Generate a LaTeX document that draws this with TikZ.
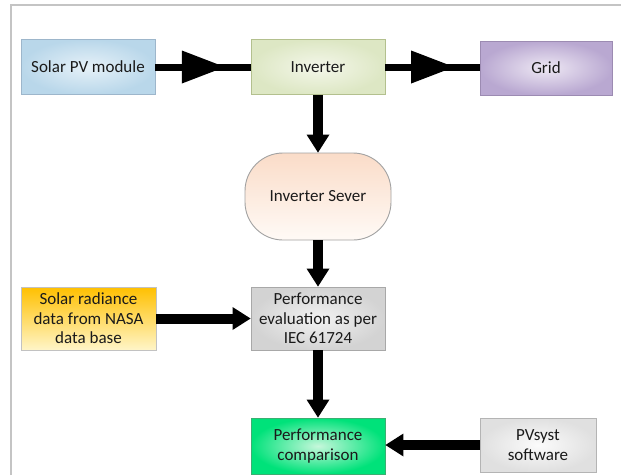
\documentclass[tikz,border=0pt]{standalone}
\usepackage{fontspec}
\setmainfont{Carlito}
\usetikzlibrary{arrows.meta,decorations.markings}

\definecolor{txt}{HTML}{1A1A1A}
\definecolor{framegray}{HTML}{C4C4C4}
\definecolor{pvline}{HTML}{9DB6CB}\definecolor{pvin}{HTML}{E6F1F8}\definecolor{pvout}{HTML}{B9D7EA}
\definecolor{invline}{HTML}{B3C08E}\definecolor{invin}{HTML}{F4F7EA}\definecolor{invout}{HTML}{DDE7C4}
\definecolor{gridline}{HTML}{9C8BB2}\definecolor{gridin}{HTML}{EEE8F4}\definecolor{gridout}{HTML}{B9A8D1}
\definecolor{svline}{HTML}{A2A2A2}\definecolor{svtop}{HTML}{FADCC8}\definecolor{svbot}{HTML}{FFFAF6}
\definecolor{radline}{HTML}{C2C2C2}\definecolor{radtop}{HTML}{FFC000}\definecolor{radbot}{HTML}{FFF5C8}
\definecolor{evline}{HTML}{A8A8A8}\definecolor{evin}{HTML}{F2F2F2}\definecolor{evout}{HTML}{D3D3D3}
\definecolor{cmline}{HTML}{3BAF72}\definecolor{cmin}{HTML}{C6F7DB}\definecolor{cmout}{HTML}{00E27A}
\definecolor{psline}{HTML}{B4B4B4}\definecolor{psin}{HTML}{FBFBFB}\definecolor{psout}{HTML}{E0E0E0}

\tikzset{
  block/.style={draw, line width=0.9pt, minimum width=134pt, minimum height=55pt,
    inner sep=2pt, align=center, text=txt, font=\fontsize{17}{19.5}\selectfont},
  flow/.style={line width=7pt, line cap=butt,
    postaction={decorate},
    decoration={markings, mark=at position 0.73 with {\arrow{Triangle[length=43pt,width=33pt,line width=0pt]}}}},
  fat/.style={line width=10pt, line cap=butt, -{Triangle[length=18pt,width=23pt,line width=0pt]}},
}

\begin{document}
\begin{tikzpicture}[x=1pt,y=-1pt]
  \useasboundingbox (0,0) rectangle (621,475);
  \fill[white] (0,0) rectangle (621,475);

  % page frame
  \draw[framegray, line width=1.2pt] (11,475) -- (11,5) -- (621,5);

  % top row
  \node[block, draw=pvline, inner color=pvin, outer color=pvout] (pv) at (88,67) {Solar PV module};
  \node[block, draw=invline, inner color=invin, outer color=invout] (inv) at (318,67) {Inverter};
  \node[block, draw=gridline, minimum width=132pt, minimum height=54pt, inner color=gridin, outer color=gridout] (grid) at (546,68) {Grid};

  % server
  \node[block, draw=svline, minimum width=146pt, minimum height=87pt, rounded corners=38pt,
        top color=svtop, bottom color=svbot] (sever) at (318,196.5) {Inverter Sever};

  % evaluation row
  \node[block, draw=radline, minimum width=135pt, minimum height=63pt,
        top color=radtop, bottom color=radbot] (rad) at (88.5,318.5) {Solar radiance\\data from NASA\\data base};
  \node[block, draw=evline, minimum height=63pt, inner color=evin, outer color=evout] (eval) at (318,318.5) {Performance\\evaluation as per\\IEC 61724};

  % comparison row
  \node[block, draw=cmline, minimum height=56pt, inner color=cmin, outer color=cmout] (comp) at (318,446) {Performance\\comparison};
  \node[block, draw=psline, minimum width=116pt, minimum height=54pt, inner color=psin, outer color=psout] (pvs) at (538,445) {PVsyst\\software};

  % connectors
  \draw[flow] (pv.east) -- (inv.west);
  \draw[flow] (inv.east) -- (grid.west |- inv.east);
  \draw[fat] (inv.south) -- (sever.north);
  \draw[fat] (sever.south) -- (eval.north);
  \draw[fat] (rad.east) -- (eval.west);
  \draw[fat] (eval.south) -- (comp.north);
  \draw[fat] (pvs.west) -- (comp.east |- pvs.west);
\end{tikzpicture}
\end{document}
